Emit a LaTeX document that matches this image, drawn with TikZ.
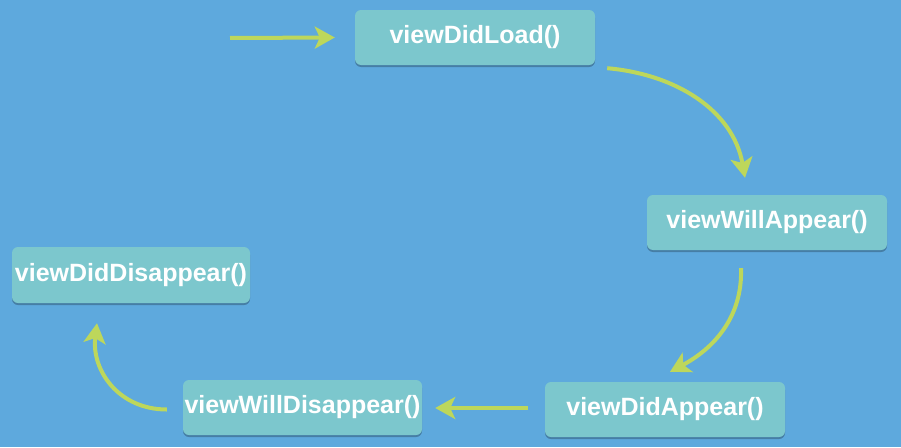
\documentclass[tikz,border=0pt]{standalone}
\usepackage{fontspec}
\setmainfont{Liberation Sans}
\usetikzlibrary{arrows.meta,shadows}
\definecolor{bgblue}{HTML}{5EA9DD}
\definecolor{boxteal}{HTML}{7CC7CD}
\definecolor{arrowgreen}{HTML}{BDD75B}
\tikzset{
  statebox/.style={rectangle, rounded corners=6pt, fill=boxteal,
    minimum width=240pt, minimum height=55pt, inner sep=0pt,
    text=white, font=\fontsize{25}{29}\selectfont\bfseries,
    drop shadow={shadow xshift=0pt, shadow yshift=-2pt, opacity=0.25, fill=black}},
  flow/.style={draw=arrowgreen, line width=4pt,
    -{Stealth[length=20pt,width=22pt,inset=5pt]}}
}
\begin{document}
\begin{tikzpicture}[x=1pt,y=-1pt]
\fill[bgblue] (0,0) rectangle (901,447);
\useasboundingbox (0,0) rectangle (901,447);
\node[statebox] (load) at (475,37.5) {viewDidLoad()};
\node[statebox] (willapp) at (767,222.5) {viewWillAppear()};
\node[statebox, minimum width=238pt, minimum height=56pt] (diddis) at (131,275) {viewDidDisappear()};
\node[statebox, minimum width=239pt] (willdis) at (302.5,407.5) {viewWillDisappear()};
\node[statebox] (didapp) at (665,409.5) {viewDidAppear()};
\coordinate (start) at (230,38);
\draw[flow] (start) -- ([xshift=-20pt]load.west);
\draw[flow] ([xshift=12pt,yshift=-3pt]load.south east) to[out=-5,in=100,looseness=1.0] ([xshift=-22pt,yshift=17pt]willapp.north);
\draw[flow] ([xshift=-26pt,yshift=-18pt]willapp.south) to[out=-88,in=28,looseness=1.0] ([xshift=5pt,yshift=10pt]didapp.north);
\draw[flow] ([xshift=-17pt,yshift=1.5pt]didapp.west) -- ([xshift=13pt,yshift=-0.5pt]willdis.east);
\draw[flow] ([xshift=-16pt,yshift=-2pt]willdis.west) to[out=180,in=-97,looseness=1.1] ([xshift=-34pt,yshift=-20pt]diddis.south);
\end{tikzpicture}
\end{document}
